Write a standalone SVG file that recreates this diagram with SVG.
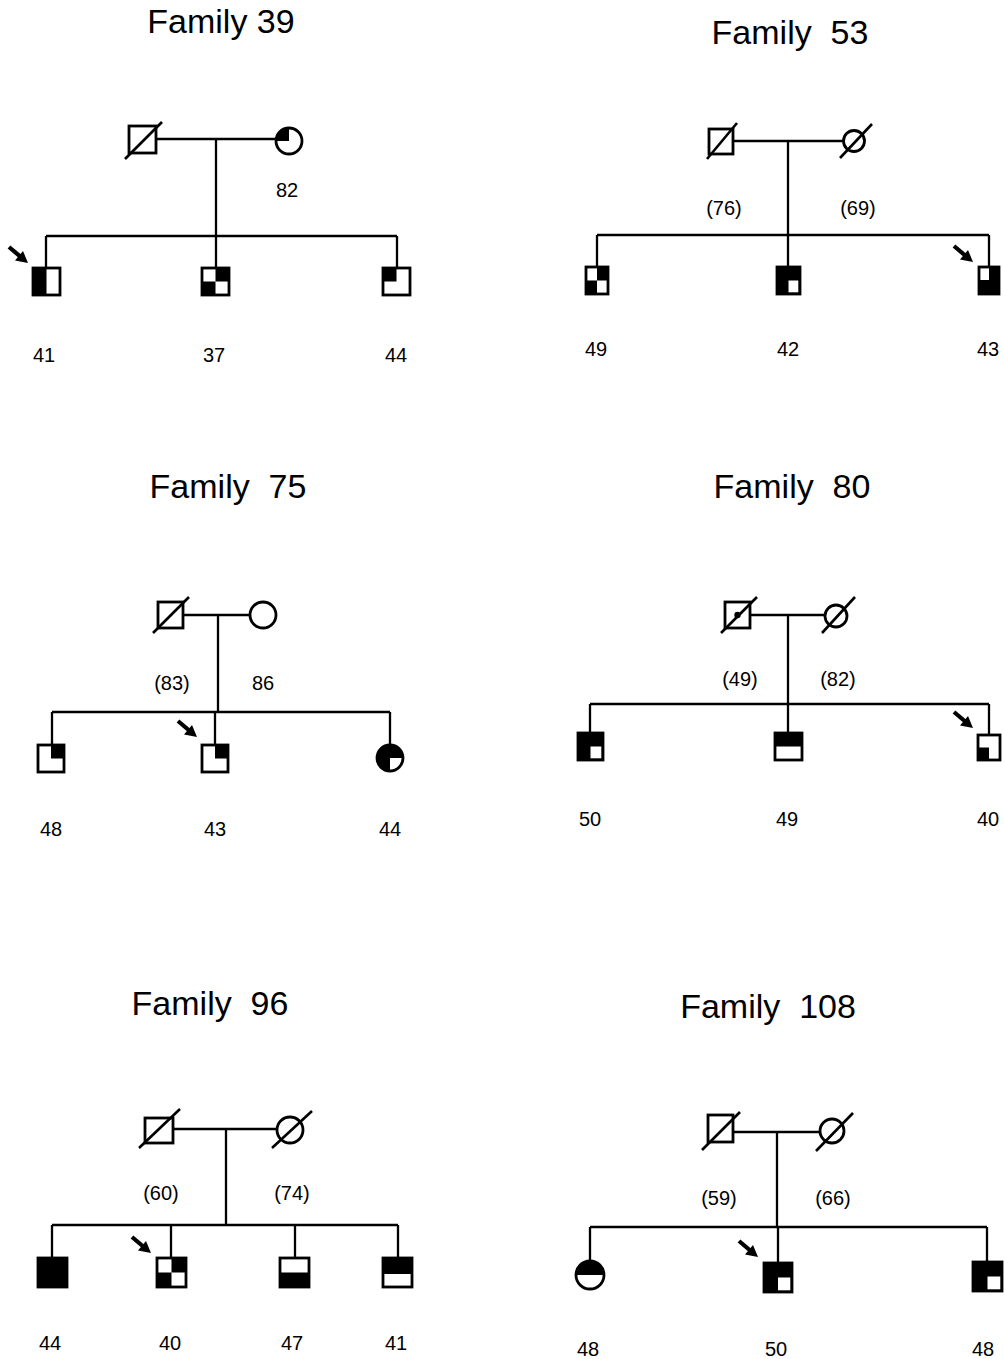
<svg xmlns="http://www.w3.org/2000/svg" xmlns:xlink="http://www.w3.org/1999/xlink" width="1004" height="1359" viewBox="0 0 1004 1359">
<style>
.ln{stroke:#000;stroke-width:2.3;fill:none}
.bg{fill:#fff}
.o{fill:none;stroke:#000;stroke-width:2.8}
.b{fill:#000}
.sl{stroke:#000;stroke-width:2.6}
.t{font-family:"Liberation Sans",Arial,sans-serif;font-size:20px;text-anchor:middle;fill:#000}
.ti{font-family:"Liberation Sans",Arial,sans-serif;font-size:34px;text-anchor:middle;fill:#000;white-space:pre}
</style>
<defs>
<g id="arrow"><line x1="-19" y1="-16" x2="-6" y2="-5" stroke="#000" stroke-width="4.2"/><polygon points="0,0 -13,-2.5 -5,-12" fill="#000"/></g>
</defs>
<rect width="1004" height="1359" fill="#fff"/>

<g id="connectors">
<!-- Family 39 -->
<path class="ln" d="M157,139 H276 M216,139 V236 M46,236 H397 M46,236 V268 M216,236 V268 M397,236 V268"/>
<!-- Family 53 -->
<path class="ln" d="M733,141 H844 M788,141 V235 M597,235 H989 M597,235 V267 M788,235 V267 M989,235 V267"/>
<!-- Family 75 -->
<path class="ln" d="M183,615 H250 M218,615 V712 M52,712 H390 M52,712 V745 M215,712 V745 M390,712 V745"/>
<!-- Family 80 -->
<path class="ln" d="M750,615 H825 M788,615 V704 M590,704 H989 M590,704 V733 M788,704 V733 M989,704 V735"/>
<!-- Family 96 -->
<path class="ln" d="M173,1129 H277 M226,1129 V1225 M52,1225 H398 M52,1225 V1258 M171,1225 V1258 M295,1225 V1258 M398,1225 V1258"/>
<!-- Family 108 -->
<path class="ln" d="M733,1132 H820 M777,1132 V1227 M590,1227 H987 M590,1227 V1261 M778,1227 V1263 M987,1227 V1262"/>
<!-- proband arrows -->
<use xlink:href="#arrow" href="#arrow" transform="translate(28,263)"/>
<use xlink:href="#arrow" href="#arrow" transform="translate(973,262)"/>
<use xlink:href="#arrow" href="#arrow" transform="translate(197,737)"/>
<use xlink:href="#arrow" href="#arrow" transform="translate(973,728)"/>
<use xlink:href="#arrow" href="#arrow" transform="translate(151,1253)"/>
<use xlink:href="#arrow" href="#arrow" transform="translate(758,1257)"/>
</g>

<!-- ===== Family 39 ===== -->
<text class="ti" x="221" y="33">Family 39</text>
<g id="f39-father"><rect class="bg" x="129" y="126" width="27" height="27"/><rect class="o" x="129" y="126" width="27" height="27"/><line class="sl" x1="125" y1="159" x2="162" y2="122"/></g>
<g id="f39-mother"><circle class="bg" cx="289" cy="141" r="13"/><path class="b" d="M289,141 V128 A13,13 0 0 0 276,141 Z"/><circle class="o" cx="289" cy="141" r="13"/></g>
<text class="t" x="287" y="197">82</text>
<g id="f39-c1"><rect class="bg" x="33" y="268" width="27" height="27"/><rect class="b" x="33" y="268" width="13.5" height="27"/><rect class="o" x="33" y="268" width="27" height="27"/></g>
<g id="f39-c2"><rect class="bg" x="202" y="268" width="27" height="27"/><rect class="b" x="215.5" y="268" width="13.5" height="13.5"/><rect class="b" x="202" y="281.5" width="13.5" height="13.5"/><rect class="o" x="202" y="268" width="27" height="27"/></g>
<g id="f39-c3"><rect class="bg" x="383" y="268" width="27" height="27"/><rect class="b" x="383" y="268" width="13.5" height="13.5"/><rect class="o" x="383" y="268" width="27" height="27"/></g>
<text class="t" x="44" y="362">41</text>
<text class="t" x="214" y="362">37</text>
<text class="t" x="396" y="362">44</text>

<!-- ===== Family 53 ===== -->
<text class="ti" x="790" y="44">Family  53</text>
<g id="f53-father"><rect class="bg" x="709" y="129" width="24" height="25"/><rect class="o" x="709" y="129" width="24" height="25"/><line class="sl" x1="707" y1="159" x2="737" y2="123"/></g>
<g id="f53-mother"><circle class="bg" cx="854" cy="141" r="10.5"/><circle class="o" cx="854" cy="141" r="10.5"/><line class="sl" x1="840" y1="158" x2="872" y2="124"/></g>
<text class="t" x="724" y="215">(76)</text>
<text class="t" x="858" y="215">(69)</text>
<g id="f53-c1"><rect class="bg" x="586" y="267" width="22" height="27"/><rect class="b" x="597" y="267" width="11" height="13.5"/><rect class="b" x="586" y="280.5" width="11" height="13.5"/><rect class="o" x="586" y="267" width="22" height="27"/></g>
<g id="f53-c2"><rect class="b" x="777" y="267" width="23" height="27"/><rect class="bg" x="788.5" y="280.5" width="10" height="12"/><rect class="o" x="777" y="267" width="23" height="27"/></g>
<g id="f53-c3"><rect class="b" x="979" y="267" width="20" height="27"/><rect class="bg" x="980" y="268" width="9" height="12"/><rect class="o" x="979" y="267" width="20" height="27"/></g>
<text class="t" x="596" y="356">49</text>
<text class="t" x="788" y="356">42</text>
<text class="t" x="988" y="356">43</text>

<!-- ===== Family 75 ===== -->
<text class="ti" x="228" y="498">Family  75</text>
<g id="f75-father"><rect class="bg" x="158" y="602" width="25" height="26"/><rect class="o" x="158" y="602" width="25" height="26"/><line class="sl" x1="153" y1="633" x2="189" y2="597"/></g>
<g id="f75-mother"><circle class="bg" cx="263" cy="615" r="13"/><circle class="o" cx="263" cy="615" r="13"/></g>
<text class="t" x="172" y="690">(83)</text>
<text class="t" x="263" y="690">86</text>
<g id="f75-c1"><rect class="bg" x="38" y="745" width="26" height="27"/><rect class="b" x="51" y="745" width="13" height="13.5"/><rect class="o" x="38" y="745" width="26" height="27"/></g>
<g id="f75-c2"><rect class="bg" x="202" y="745" width="26" height="27"/><rect class="b" x="215" y="745" width="13" height="13.5"/><rect class="o" x="202" y="745" width="26" height="27"/></g>
<g id="f75-c3"><circle class="b" cx="390" cy="758" r="13"/><path class="bg" d="M390,758 H402 A12,12 0 0 1 390,770 Z"/><circle class="o" cx="390" cy="758" r="13"/></g>
<text class="t" x="51" y="836">48</text>
<text class="t" x="215" y="836">43</text>
<text class="t" x="390" y="836">44</text>

<!-- ===== Family 80 ===== -->
<text class="ti" x="792" y="498">Family  80</text>
<g id="f80-father"><rect class="bg" x="725" y="602" width="25" height="26"/><rect class="o" x="725" y="602" width="25" height="26"/><circle class="b" cx="737.5" cy="615" r="3.2"/><line class="sl" x1="721" y1="633" x2="757" y2="597"/></g>
<g id="f80-mother"><circle class="bg" cx="836" cy="616" r="11"/><circle class="o" cx="836" cy="616" r="11"/><line class="sl" x1="822" y1="633" x2="855" y2="597"/></g>
<text class="t" x="740" y="686">(49)</text>
<text class="t" x="838" y="686">(82)</text>
<g id="f80-c1"><rect class="b" x="578" y="733" width="25" height="27"/><rect class="bg" x="590.5" y="746.5" width="11" height="12"/><rect class="o" x="578" y="733" width="25" height="27"/></g>
<g id="f80-c2"><rect class="bg" x="775" y="733" width="27" height="27"/><rect class="b" x="775" y="733" width="27" height="13.5"/><rect class="o" x="775" y="733" width="27" height="27"/></g>
<g id="f80-c3"><rect class="bg" x="978" y="735" width="22" height="25"/><rect class="b" x="978" y="747.5" width="11" height="12.5"/><rect class="o" x="978" y="735" width="22" height="25"/></g>
<text class="t" x="590" y="826">50</text>
<text class="t" x="787" y="826">49</text>
<text class="t" x="988" y="826">40</text>

<!-- ===== Family 96 ===== -->
<text class="ti" x="210" y="1015">Family  96</text>
<g id="f96-father"><rect class="bg" x="145" y="1118" width="28" height="25"/><rect class="o" x="145" y="1118" width="28" height="25"/><line class="sl" x1="139" y1="1148" x2="180" y2="1109"/></g>
<g id="f96-mother"><circle class="bg" cx="290" cy="1130" r="13"/><circle class="o" cx="290" cy="1130" r="13"/><line class="sl" x1="272" y1="1148" x2="312" y2="1111"/></g>
<text class="t" x="161" y="1200">(60)</text>
<text class="t" x="292" y="1200">(74)</text>
<g id="f96-c1"><rect class="b" x="38" y="1258" width="29" height="29"/><rect class="o" x="38" y="1258" width="29" height="29"/></g>
<g id="f96-c2"><rect class="bg" x="157" y="1258" width="29" height="29"/><rect class="b" x="171.5" y="1258" width="14.5" height="14.5"/><rect class="b" x="157" y="1272.5" width="14.5" height="14.5"/><rect class="o" x="157" y="1258" width="29" height="29"/></g>
<g id="f96-c3"><rect class="bg" x="280" y="1258" width="29" height="29"/><rect class="b" x="280" y="1272.5" width="29" height="14.5"/><rect class="o" x="280" y="1258" width="29" height="29"/></g>
<g id="f96-c4"><rect class="bg" x="383" y="1258" width="29" height="29"/><rect class="b" x="383" y="1258" width="29" height="16"/><rect class="o" x="383" y="1258" width="29" height="29"/></g>
<text class="t" x="50" y="1350">44</text>
<text class="t" x="170" y="1350">40</text>
<text class="t" x="292" y="1350">47</text>
<text class="t" x="396" y="1350">41</text>

<!-- ===== Family 108 ===== -->
<text class="ti" x="768" y="1018">Family  108</text>
<g id="f108-father"><rect class="bg" x="708" y="1115" width="25" height="27"/><rect class="o" x="708" y="1115" width="25" height="27"/><line class="sl" x1="702" y1="1150" x2="740" y2="1112"/></g>
<g id="f108-mother"><circle class="bg" cx="832" cy="1131" r="12"/><circle class="o" cx="832" cy="1131" r="12"/><line class="sl" x1="816" y1="1151" x2="853" y2="1113"/></g>
<text class="t" x="719" y="1205">(59)</text>
<text class="t" x="833" y="1205">(66)</text>
<g id="f108-c1"><circle class="bg" cx="590" cy="1275" r="14"/><path class="b" d="M576,1275 A14,14 0 0 1 604,1275 Z"/><circle class="o" cx="590" cy="1275" r="14"/></g>
<g id="f108-c2"><rect class="b" x="764" y="1263" width="28" height="29"/><rect class="bg" x="778" y="1277.5" width="12.5" height="13"/><rect class="o" x="764" y="1263" width="28" height="29"/></g>
<g id="f108-c3"><rect class="b" x="973" y="1262" width="29" height="29"/><rect class="bg" x="987.5" y="1276.5" width="13" height="13"/><rect class="o" x="973" y="1262" width="29" height="29"/></g>
<text class="t" x="588" y="1356">48</text>
<text class="t" x="776" y="1356">50</text>
<text class="t" x="983" y="1356">48</text>
</svg>
